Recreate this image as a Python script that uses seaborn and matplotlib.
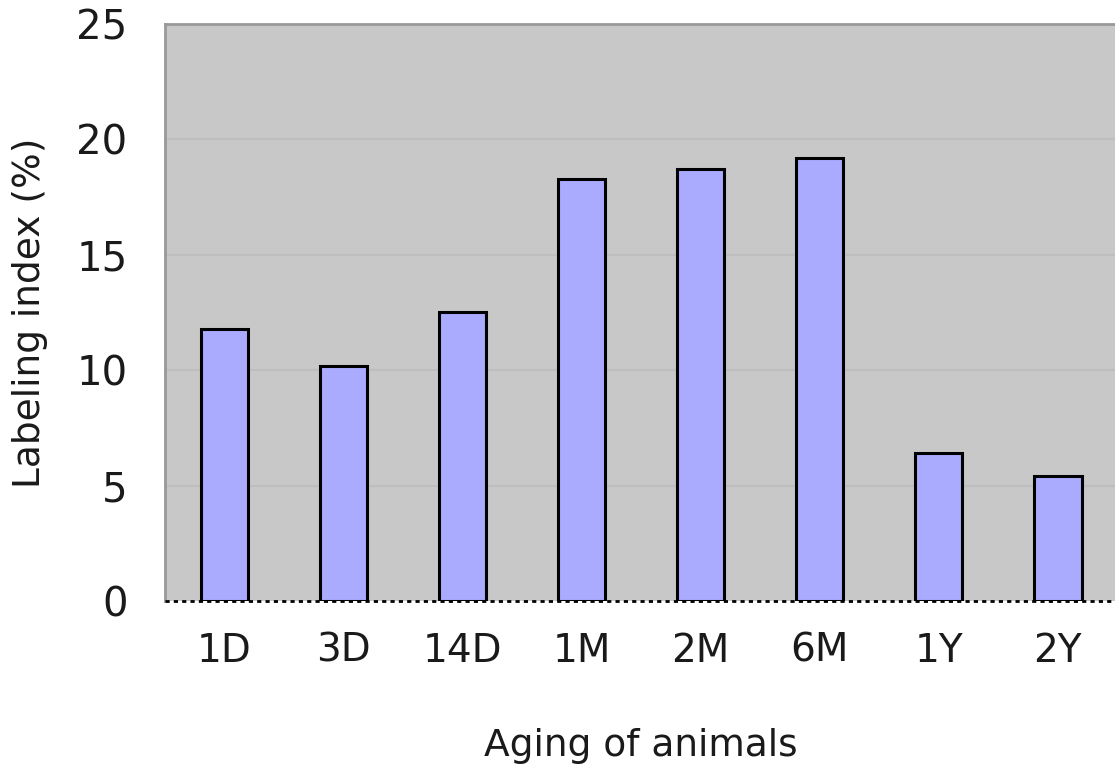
import numpy as np
import pandas as pd
import matplotlib
matplotlib.use("Agg")
import matplotlib.pyplot as plt
import seaborn as sns

# Labeling index by age of animals
ages = ["1D", "3D", "14D", "1M", "2M", "6M", "1Y", "2Y"]
labeling_index = [11.8, 10.2, 12.5, 18.3, 18.7, 19.2, 6.4, 5.4]

df = pd.DataFrame({"age": ages, "index": labeling_index})

sns.set_theme(style="white")
plt.rcParams["font.family"] = ["DejaVu Sans"]
plt.rcParams["text.color"] = "#1a1a1a"
plt.rcParams["xtick.labelcolor"] = "#1a1a1a"
plt.rcParams["ytick.labelcolor"] = "#1a1a1a"
plt.rcParams["axes.labelcolor"] = "#1a1a1a"

fig = plt.figure(figsize=(11.15, 7.73), dpi=100)
ax = fig.add_axes([0.148, 0.2225, 0.854, 0.7465])
ax.set_facecolor("#C8C8C8")

# gridlines
for yv in [5, 10, 15, 20]:
    ax.axhline(yv, color="#BEBEBE", linewidth=1.5, zorder=0.5)

sns.barplot(data=df, x="age", y="index", order=ages, color="#AAAAFF",
            edgecolor="black", linewidth=2.2, width=0.4, saturation=1,
            ax=ax, zorder=2)

ax.set_xlim(-0.5, len(ages) - 0.5)
ax.set_ylim(0, 25)
ax.set_yticks([0, 5, 10, 15, 20, 25])

# dotted baseline
ax.axhline(0, color="black", linestyle=(0, (1.5, 1.5)), linewidth=2, zorder=3, clip_on=False)

# small ticks at category boundaries
ax.set_xticks(np.arange(len(ages) + 1) - 0.5, minor=True)
ax.tick_params(axis="x", which="minor", direction="in", length=8, width=1, color="#B0B0B0")
ax.tick_params(axis="x", which="major", length=0, pad=22, labelsize=28)
ax.tick_params(axis="y", length=0, pad=27, labelsize=29)

for s in ["left", "top"]:
    ax.spines[s].set_color("#999999")
    ax.spines[s].set_linewidth(2)
ax.spines["bottom"].set_visible(False)
ax.spines["right"].set_visible(False)

ax.set_xlabel("Aging of animals", fontsize=27, labelpad=42)
ax.set_ylabel("Labeling index (%)", fontsize=27, labelpad=20)

fig.savefig("out.png", dpi=100)
